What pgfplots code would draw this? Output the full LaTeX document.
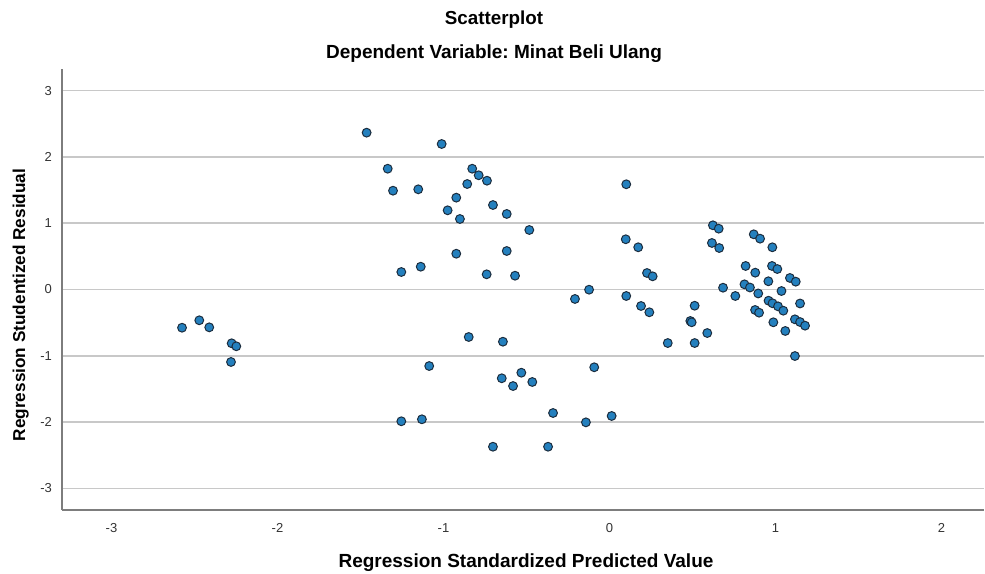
\documentclass[border=0pt]{standalone}
\usepackage{pgfplots}
\pgfplotsset{compat=1.18}
\usepackage{fontspec}
\setmainfont{Liberation Sans}
\frenchspacing
\definecolor{ptfill}{RGB}{36,128,190}
\definecolor{ptedge}{RGB}{28,45,62}
\definecolor{gridc}{RGB}{200,200,200}
\definecolor{axc}{RGB}{125,125,125}
\begin{document}
\begin{tikzpicture}
\path[use as bounding box] (0,0) rectangle (492.5pt,286.5pt);
\begin{axis}[
  at={(31pt,31.5pt)}, anchor=south west,
  scale only axis, width=461pt, height=220.5pt,
  xmin=-3.298, xmax=2.256, ymin=-3.328, ymax=3.328,
  axis x line=bottom, axis y line=left,
  axis line style={axc, line width=0.75pt, -},
  xtick={-3,-2,-1,0,1,2}, ytick={-3,-2,-1,0,1,2,3},
  major tick length=0pt,
  ymajorgrids, grid style={gridc, line width=0.75pt},
  tick label style={font=\fontsize{6.5}{7}\selectfont, text=black!80},
  /pgf/number format/assume math mode=true,
  xticklabel style={yshift=-3pt},
  yticklabel style={xshift=-1.5pt},
  clip=false,
]
\addplot[only marks, mark=*, mark size=2.2pt,
  mark options={fill=ptfill, draw=ptedge, line width=0.5pt}]
coordinates {
(-2.575,-0.577) (-2.471,-0.465) (-2.411,-0.571) (-2.276,-0.812) (-2.248,-0.857) (-2.280,-1.094)
(-1.463,2.367) (-1.011,2.196) (-1.336,1.823) (-0.827,1.823) (-0.788,1.724) (-0.738,1.642)
(-1.304,1.491) (-1.152,1.512) (-0.857,1.592) (-0.923,1.386) (-0.702,1.275) (-0.975,1.195)
(-0.901,1.064) (-0.619,1.140) (-0.483,0.898) (-0.619,0.581) (-0.923,0.540) (-1.254,0.264)
(-1.137,0.344) (-0.740,0.229) (-0.569,0.208)
(-0.848,-0.717) (-0.642,-0.788) (-1.086,-1.155) (-0.092,-1.174) (-0.649,-1.340) (-0.531,-1.256)
(-0.581,-1.457) (-0.465,-1.396) (-0.340,-1.864) (-1.254,-1.989) (-1.130,-1.959) (-0.142,-2.005)
(0.013,-1.909) (-0.702,-2.373) (-0.370,-2.373)
(-0.208,-0.143) (-0.123,-0.003)
(0.101,1.588) (0.623,0.969) (0.658,0.918) (0.869,0.833) (0.907,0.767) (0.098,0.758)
(0.173,0.637) (0.617,0.702) (0.661,0.626) (0.981,0.637) (0.226,0.249) (0.260,0.199)
(0.820,0.355) (0.878,0.254) (0.979,0.355) (1.011,0.309) (1.087,0.174) (1.122,0.118)
(0.684,0.027) (0.957,0.124) (0.101,-0.098) (0.758,-0.098) (0.813,0.078) (0.846,0.030)
(0.896,-0.060) (1.036,-0.023) (0.958,-0.169) (0.982,-0.208) (1.015,-0.254) (1.047,-0.320)
(1.148,-0.211) (0.190,-0.249) (0.240,-0.344) (0.513,-0.245) (0.877,-0.309) (0.901,-0.350)
(0.487,-0.475) (0.495,-0.495) (0.987,-0.495) (1.117,-0.450) (1.148,-0.491) (1.178,-0.546)
(1.059,-0.626) (0.589,-0.657) (0.351,-0.808) (0.513,-0.808) (1.117,-1.004)
};
\end{axis}
\node[anchor=base, font=\bfseries\fontsize{9.4}{10}\selectfont] at (247pt,274pt) {Scatterplot};
\node[anchor=base, font=\bfseries\fontsize{9.5}{10}\selectfont] at (247pt,257pt) {Dependent Variable: Minat Beli Ulang};
\node[anchor=base, font=\bfseries\fontsize{9.5}{10}\selectfont] at (263pt,3pt) {Regression Standardized Predicted Value};
\node[anchor=base, rotate=90, font=\bfseries\fontsize{8.6}{10}\selectfont] at (12.5pt,134pt) {Regression Studentized Residual};
\end{tikzpicture}
\end{document}
